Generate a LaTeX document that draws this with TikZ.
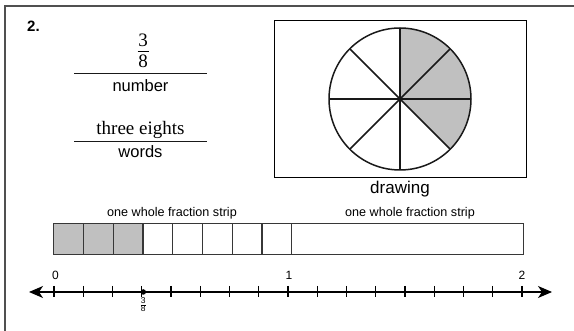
\documentclass[tikz,border=0pt]{standalone}
\usepackage{fontspec}
\setmainfont{Liberation Sans}
\newfontfamily\timesfont{Liberation Serif}
\usepackage{tikz}
\usetikzlibrary{arrows.meta, positioning, calc}
\definecolor{mydark}{RGB}{25,25,25}
\definecolor{mygrey}{RGB}{80,80,80}
\definecolor{myshade}{RGB}{192,192,192}
\definecolor{mystrip}{RGB}{55,55,55}
\tikzset{
  txt/.style={inner sep=0pt, anchor=base, text=black},
  ansline/.style={line width=1pt, color=mydark},
  frame/.style={line width=1.4pt, color=mygrey},
  pie/.style={line width=1.5pt, color=mydark},
  cell/.style={rectangle, draw=mystrip, line width=1.3pt, anchor=north west,
    minimum width=29.75pt, minimum height=31pt, inner sep=0pt},
  numline/.style={{Stealth[length=14pt, width=12pt, inset=4pt]}-{Stealth[length=14pt, width=12pt, inset=4pt]},
    line width=1.3pt, color=black},
  nltick/.style={line width=1.2pt, color=black}
}
\begin{document}
\begin{tikzpicture}[x=1pt, y=-1pt]
  \useasboundingbox (0,0) rectangle (574,331);
  % Frame
  \draw[frame] (5,331) -- (5,6) -- (574,6);
  \node[txt, font=\fontsize{15}{15}\selectfont\bfseries] (qnum) at (33.5,32) {2.};

  % Number and words
  \node[txt, font=\timesfont\fontsize{19}{19}\selectfont] (numer) at (143,47) {3};
  \node[txt, font=\timesfont\fontsize{19}{19}\selectfont] (denom) at (143,68) {8};
  \draw[line width=0.8pt] (137.5,51.5) -- (148.5,51.5);
  \coordinate (nA) at (74,74);
  \coordinate (nB) at (207,74);
  \draw[ansline] (nA) -- (nB);
  \node[txt, font=\fontsize{16.5}{16.5}\selectfont] (number) at (140.5,92) {number};
  \node[txt, font=\timesfont\fontsize{19}{19}\selectfont] (three) at (140.5,135) {three eights};
  \coordinate (wA) at (74,142);
  \coordinate (wB) at (207,142);
  \draw[ansline] (wA) -- (wB);
  \node[txt, font=\fontsize{16.5}{16.5}\selectfont] (words) at (140.5,158) {words};

  % Drawing
  \node[rectangle, draw=black, line width=1pt, minimum width=252pt, minimum height=157pt,
    inner sep=0pt] (box) at (400,99.5) {};
  \coordinate (pc) at (400,99);
  \fill[myshade] (pc) -- ++(90:71pt) arc[start angle=90, end angle=-45, radius=71pt] -- cycle;
  \draw[pie] (pc) circle[radius=71pt];
  \foreach \a in {0,45,90,135} {
    \draw[pie] ($(pc)+(\a:71pt)$) -- ($(pc)+(\a+180:71pt)$);
  }
  \node[txt, font=\fontsize{17}{17}\selectfont] (drawing) at (400,194) {drawing};

  % Fraction strips
  \foreach \i in {0,...,7} {
    \node[cell] (c\i) at ({53+29.75*\i},223) {};
  }
  \foreach \i in {0,1,2} {
    \node[cell, fill=myshade] at (c\i.north west) {};
  }
  \node[cell, minimum width=232pt] (whole) at (291,223) {};
  \node[txt, font=\fontsize{12.6}{12.6}\selectfont] (lblA) at (172,217) {one whole fraction strip};
  \node[txt, font=\fontsize{12.6}{12.6}\selectfont] (lblB) at (410,217) {one whole fraction strip};

  % Number line
  \coordinate (nlleft) at (29,292);
  \coordinate (nlright) at (552,292);
  \draw[numline] (nlleft) -- (nlright);
  \foreach \k in {0,...,16} {
    \draw[nltick] ({54+29.25*\k},286) -- ++(0,11);
  }
  \node[txt, font=\fontsize{12}{12}\selectfont] (zero) at (55.5,280) {0};
  \node[txt, font=\fontsize{12}{12}\selectfont] (one) at (289,280) {1};
  \node[txt, font=\fontsize{12}{12}\selectfont] (two) at (522,280) {2};
  \node[circle, fill=black, inner sep=0pt, minimum size=5.5pt] (dot) at (143.25,292) {};
  \node[inner sep=0pt, font=\fontsize{8.5}{8.5}\selectfont] (dotlbl) at (143.25,304.5)
    {$\frac{\mbox{3}}{\mbox{8}}$};
\end{tikzpicture}
\end{document}
